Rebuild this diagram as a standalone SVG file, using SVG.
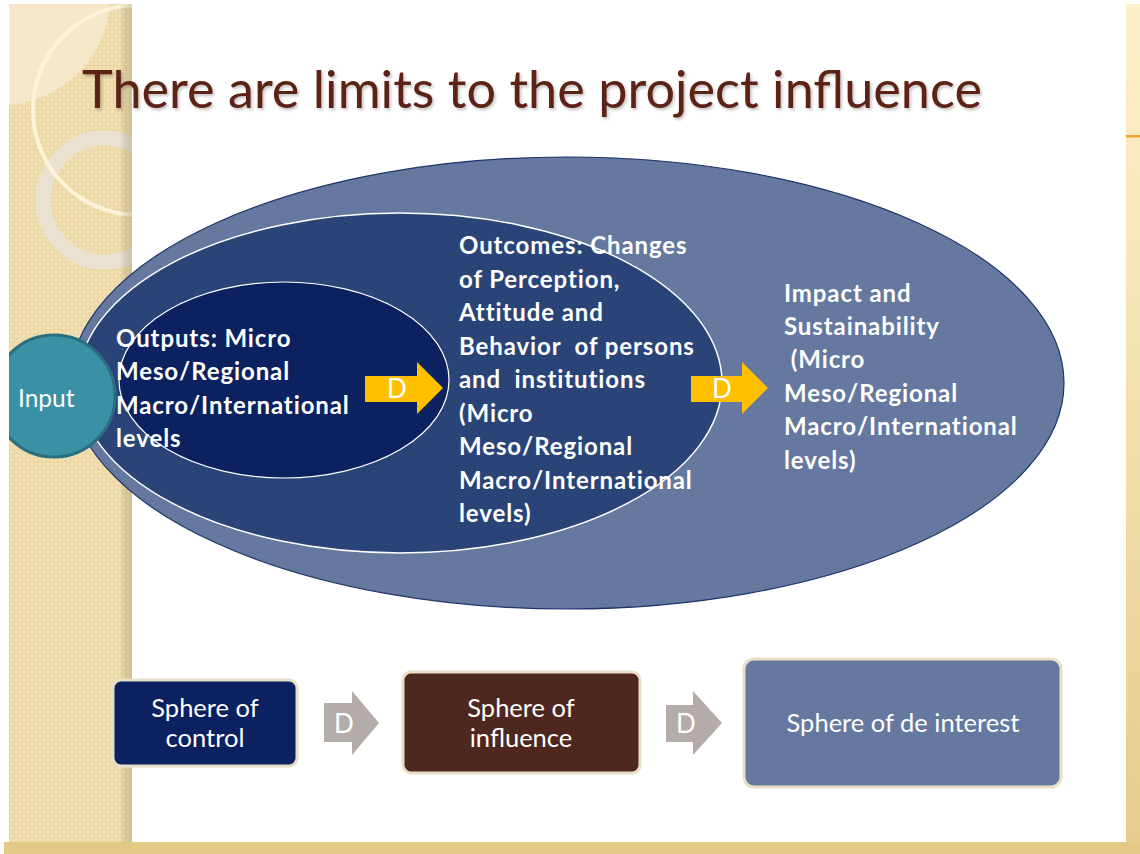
<svg xmlns="http://www.w3.org/2000/svg" width="1140" height="854" viewBox="0 0 1140 854">
<defs>
<style>
.bold{font-family:Lato,"Liberation Sans",sans-serif;font-weight:bold;font-size:24px;letter-spacing:0.9px;fill:#ffffff}
.gill{font-family:Lato,"Liberation Sans",sans-serif;font-size:25.5px;fill:#ffffff}
.dlab{font-family:Lato,"Liberation Sans",sans-serif;font-size:26px;fill:#ffffff;text-anchor:middle}
.box{stroke:#e8dfc6;stroke-width:3}
.yarrow{fill:#ffc000}
.garrow{fill:#b3aca8}
</style>
<pattern id="tex" width="8" height="8" patternUnits="userSpaceOnUse">
<rect width="8" height="8" fill="#f1dfb2"/>
<rect x="1.5" y="1.5" width="5" height="5" fill="none" stroke="#e8d29f" stroke-width="1"/>
</pattern>
<linearGradient id="rgrad" x1="0" y1="0" x2="0" y2="1">
<stop offset="0" stop-color="#fdf0c9"/>
<stop offset="1" stop-color="#e6cd8e"/>
</linearGradient>
<linearGradient id="sshade" x1="0" y1="0" x2="1" y2="0">
<stop offset="0.9" stop-color="#000" stop-opacity="0"/>
<stop offset="1" stop-color="#8a7040" stop-opacity="0.25"/>
</linearGradient>
<clipPath id="stripclip"><rect x="9" y="4" width="123" height="838"/></clipPath>
<clipPath id="slideclip"><rect x="9" y="0" width="1131" height="854"/></clipPath>
<filter id="tshadow" x="-5%" y="-20%" width="110%" height="150%">
<feDropShadow dx="1.5" dy="2" stdDeviation="1.5" flood-color="#000" flood-opacity="0.25"/>
</filter>
</defs>
<rect width="1140" height="854" fill="#ffffff"/>
<!-- decorative frame -->
<g id="decor">
<g clip-path="url(#stripclip)">
<rect x="9" y="4" width="123" height="838" fill="url(#tex)"/>
<path d="M9,4 L110,4 A110,110 0 0 1 9,105 Z" fill="#f7ead0" opacity="0.8"/>
<circle cx="105" cy="200" r="62" fill="none" stroke="#e9e2d0" stroke-width="15"/>
<circle cx="138" cy="110" r="105" fill="none" stroke="#fcf3d8" stroke-width="4"/>
<rect x="9" y="4" width="123" height="838" fill="url(#sshade)"/>
</g>
<rect x="1126" y="4" width="14" height="838" fill="url(#rgrad)"/>
<rect x="1126" y="135" width="14" height="2.5" fill="#f0a530"/>
<rect x="4" y="842" width="1136" height="12" fill="#e3c986"/>
</g>
<g id="title">
<text x="82" y="108" font-family="Lato, 'Liberation Sans', sans-serif" font-size="52" fill="#5b2415" textLength="900" lengthAdjust="spacingAndGlyphs" filter="url(#tshadow)">There are limits to the project influence</text>
</g>
<!-- nested ellipses -->
<g id="impact">
<ellipse cx="567" cy="383" rx="497" ry="226" fill="#65789f" stroke="#1f3468" stroke-width="1.2"/>
</g>
<g id="outcomes">
<ellipse cx="400" cy="383" rx="322" ry="170" fill="#2a4478" stroke="#ffffff" stroke-width="1.5"/>
</g>
<g id="outputs">
<ellipse cx="284" cy="380" rx="165" ry="98" fill="#0b2160" stroke="#ffffff" stroke-width="1.2"/>
</g>
<g id="input" clip-path="url(#slideclip)">
<circle cx="54" cy="396" r="61" fill="#3a90a4" stroke="#2b6e80" stroke-width="3"/>
<text x="18" y="407" font-family="Lato, 'Liberation Sans', sans-serif" font-size="24.5" fill="#ffffff">Input</text>
</g>
<g id="outputs-text">
<text x="116" y="347" class="bold">Outputs: Micro</text>
<text x="116" y="380" class="bold">Meso/Regional</text>
<text x="116" y="414" class="bold">Macro/International</text>
<text x="116" y="447" class="bold">levels</text>
</g>
<g id="outcomes-text">
<text x="459" y="254" class="bold">Outcomes: Changes</text>
<text x="459" y="288" class="bold">of Perception,</text>
<text x="459" y="321" class="bold">Attitude and</text>
<text x="459" y="355" class="bold" xml:space="preserve">Behavior  of persons</text>
<text x="459" y="388" class="bold" xml:space="preserve">and  institutions</text>
<text x="459" y="422" class="bold">(Micro</text>
<text x="459" y="455" class="bold">Meso/Regional</text>
<text x="459" y="489" class="bold">Macro/International</text>
<text x="459" y="522" class="bold">levels)</text>
</g>
<g id="impact-text">
<text x="784" y="302" class="bold">Impact and</text>
<text x="784" y="335" class="bold">Sustainability</text>
<text x="784" y="368" class="bold" xml:space="preserve"> (Micro</text>
<text x="784" y="402" class="bold">Meso/Regional</text>
<text x="784" y="435" class="bold">Macro/International</text>
<text x="784" y="469" class="bold">levels)</text>
</g>
<!-- connectors -->
<g id="connectors">
<path class="yarrow" d="M365,376 L417,376 L417,362 L443,388 L417,414 L417,402 L365,402 Z"/>
<text x="397" y="398" class="dlab">D</text>
<path class="yarrow" d="M691,376 L742,376 L742,362 L768,388 L742,414 L742,402 L691,402 Z"/>
<text x="722" y="398" class="dlab">D</text>
<path class="garrow" d="M324,703 L352,703 L352,691 L379,723 L352,755 L352,742 L324,742 Z"/>
<text x="344" y="733" class="dlab">D</text>
<path class="garrow" d="M666,705 L693,705 L693,691 L722,723 L693,755 L693,742 L666,742 Z"/>
<text x="686" y="733" class="dlab">D</text>
</g>
<g id="sphere-control">
<rect x="113" y="680" width="184" height="86" rx="8" class="box" fill="#0b2160"/>
<text x="205" y="717" class="gill" text-anchor="middle">Sphere of</text>
<text x="205" y="747" class="gill" text-anchor="middle">control</text>
</g>
<g id="sphere-influence">
<rect x="403" y="672" width="237" height="101" rx="8" class="box" fill="#4e271e"/>
<text x="521" y="717" class="gill" text-anchor="middle">Sphere of</text>
<text x="521" y="747" class="gill" text-anchor="middle">influence</text>
</g>
<g id="sphere-interest">
<rect x="744" y="659" width="317" height="128" rx="10" class="box" fill="#65789f"/>
<text x="903" y="732" class="gill" text-anchor="middle">Sphere of de interest</text>
</g>
</svg>
